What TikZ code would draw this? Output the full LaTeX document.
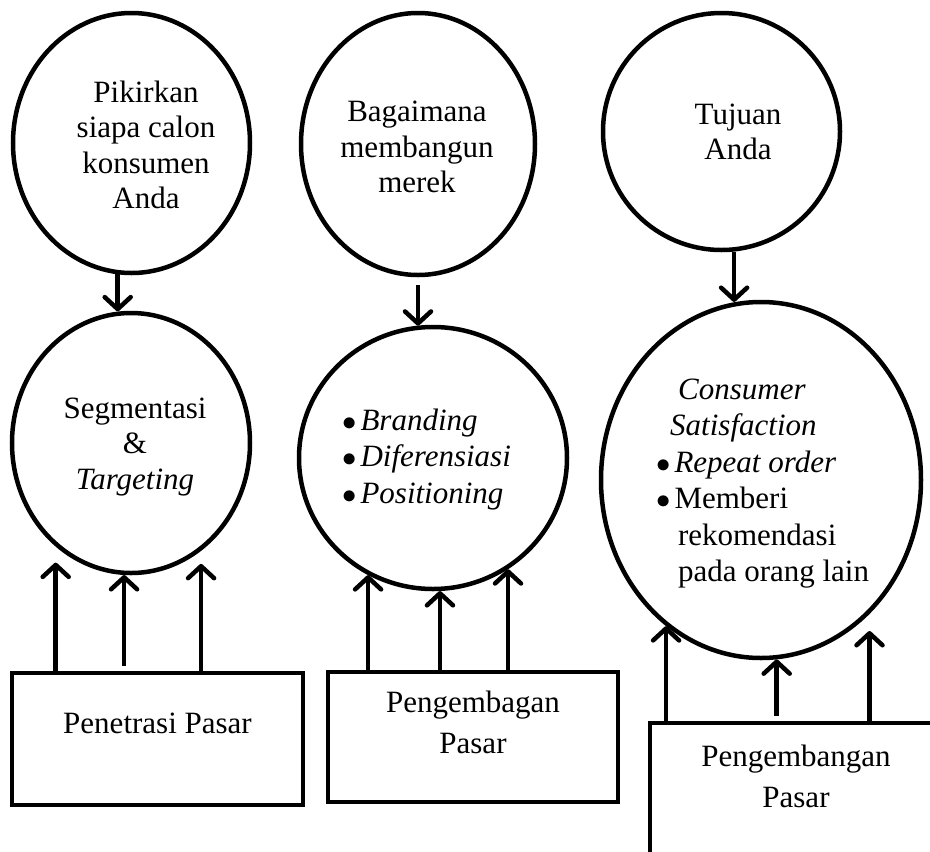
\documentclass[tikz,border=0pt]{standalone}
\usepackage{fontspec}
\setmainfont{Liberation Serif}
\usetikzlibrary{arrows.meta,shapes.geometric}

% list bullet used inside the ovals
\newcommand{\listdot}{\scalebox{1.15}{$\bullet$}\hspace{4pt}}

\begin{document}
\begin{tikzpicture}[x=1pt,y=-1pt,
  every node/.style={inner sep=0pt},
  oval/.style={ellipse,draw,line width=4.5pt},
  boxnode/.style={rectangle,draw,line width=4.5pt},
  txt/.style={font=\fontsize{31}{35.5}\selectfont,align=center},
  ltxt/.style={font=\fontsize{31}{36.5}\selectfont,align=left,anchor=west},
  btxt/.style={font=\fontsize{31}{41}\selectfont,align=center},
  arr/.style={line width=4.5pt,-{Straight Barb[length=12pt,width=26pt,round]}}
]
\useasboundingbox (0,0) rectangle (930,852);
\fill[white] (0,0) rectangle (930,852);
\clip (0,0) rectangle (930,852);

% upper ovals
\node[oval,minimum width=237pt,minimum height=260pt] (c1) at (131.5,143) {};
\node[oval,minimum width=234pt,minimum height=262pt] (d1) at (418,144) {};
\node[oval,minimum width=237pt,minimum height=237pt] (e1) at (721.5,131.5) {};

% middle ovals
\node[oval,minimum width=238pt,minimum height=260pt] (c2) at (131,443) {};
\node[oval,minimum width=268pt,minimum height=262pt] (d2) at (433,458) {};
\node[oval,minimum width=320pt,minimum height=356pt] (e2) at (761,480) {};

% bottom boxes
\node[boxnode,minimum width=291pt,minimum height=132pt] (b1) at (157.5,739) {};
\node[boxnode,minimum width=290pt,minimum height=130pt] (b2) at (473,737) {};
\node[boxnode,minimum width=300pt,minimum height=160pt] (b3) at (800,803) {};

% texts of the upper ovals
\node[txt] (t1) at (146,145) {Pikirkan\\siapa calon\\konsumen\\Anda};
\node[txt] (t2) at (417,147) {Bagaimana\\membangun\\merek};
\node[txt] (t3) at (738,132) {Tujuan\\Anda};

% texts of the middle ovals
\node[txt] (s1) at (135,447) {Segmentasi\\\&\\\textit{Targeting}};
\node[ltxt] (s2) at (342,459.5) {\listdot\textit{Branding}\\
  \listdot\textit{Diferensiasi}\\
  \listdot\textit{Positioning}};
\node[ltxt] (s3) at (656,483.5) {\hspace*{22pt}\textit{Consumer}\\
  \hspace*{14pt}\textit{Satisfaction}\\
  \listdot\textit{Repeat order}\\
  \listdot Memberi\\
  \hspace*{21.8pt}rekomendasi\\
  \hspace*{21.8pt}pada orang lain};

% texts of the boxes
\node[btxt] (p1) at (157.5,723) {Penetrasi Pasar};
\node[btxt] (p2) at (473,722) {Pengembagan\\Pasar};
\node[btxt] (p3) at (796,776) {Pengembangan\\Pasar};

% downward arrows
\draw[arr] (c1.264.03) -- (c1.264.03 |- c2.95.75);
\draw[arr,shorten <=8pt] (d1.south) -- (d1.south |- d2.97.01);
\draw[arr] (e1.276.54) -- (e1.276.54 |- e2.98.42);

% upward arrows, first column
\draw[arr,shorten >=16pt] (c2.234.6 |- b1.north) -- (c2.234.6);
\draw[arr,shorten <=5pt] (c2.267.35 |- b1.north) -- (c2.267.35);
\draw[arr,shorten >=13pt] (c2.303.1 |- b1.north) -- (c2.303.1);

% upward arrows, second column
\draw[arr] (d2.241.4 |- b2.north) -- (d2.241.4);
\draw[arr] (d2.273.94 |- b2.north) -- (d2.273.94);
\draw[arr] (d2.304.6 |- b2.north) -- (d2.304.6);

% upward arrows, third column
\draw[arr] (e2.237.3 |- b3.north) -- (e2.237.3);
\draw[arr,shorten <=5pt] (e2.275.16 |- b3.north) -- (e2.275.16);
\draw[arr,shorten >=17pt] (e2.309.43 |- b3.north) -- (e2.309.43);
\end{tikzpicture}
\end{document}
